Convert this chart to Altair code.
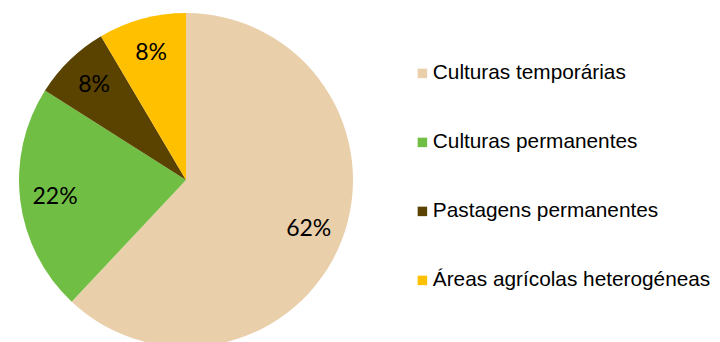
import altair as alt
import pandas as pd

categories = ["Culturas temporárias", "Culturas permanentes", "Pastagens permanentes", "Áreas agrícolas heterogéneas"]
values = [62.0, 22.0, 7.5, 8.5]
pct_labels = ["62%", "22%", "8%", "8%"]
colors = ["#EACFAB", "#70BF44", "#5A4200", "#FFC000"]

df = pd.DataFrame({
    "categoria": categories,
    "valor": values,
    "rotulo": pct_labels,
    "ordem": list(range(len(categories))),
})

cx, cy, r = 178, 172, 167

base = alt.Chart(df).encode(
    theta=alt.Theta("valor:Q", stack=True),
    order=alt.Order("ordem:Q", sort="ascending"),
)

pie = base.mark_arc(stroke=None, strokeWidth=0).encode(
    x=alt.value(cx),
    y=alt.value(cy),
    radius=alt.value(r),
    color=alt.Color(
        "categoria:N",
        scale=alt.Scale(domain=categories, range=colors),
        sort=categories,
        legend=alt.Legend(
            title=None,
            orient="none",
            legendX=404,
            legendY=55,
            symbolType="square",
            symbolSize=90,
            symbolStrokeWidth=0,
            labelFont="Liberation Sans",
            labelFontSize=20.8,
            labelColor="#000000",
            labelOffset=0,
            rowPadding=47,
            labelLimit=400,
        ),
    ),
)

labels = base.mark_text(font="Lato", fontSize=23, color="#000000").encode(
    x=alt.value(cx),
    y=alt.value(cy),
    radius=alt.value(132),
    text="rotulo:N",
)

chart = (pie + labels).properties(
    width=704,
    height=334,
    autosize=alt.AutoSizeParams(type="none"),
    padding=0,
).configure_view(stroke=None)

chart.save("out.html", embed_options={"renderer": "svg", "actions": False})
